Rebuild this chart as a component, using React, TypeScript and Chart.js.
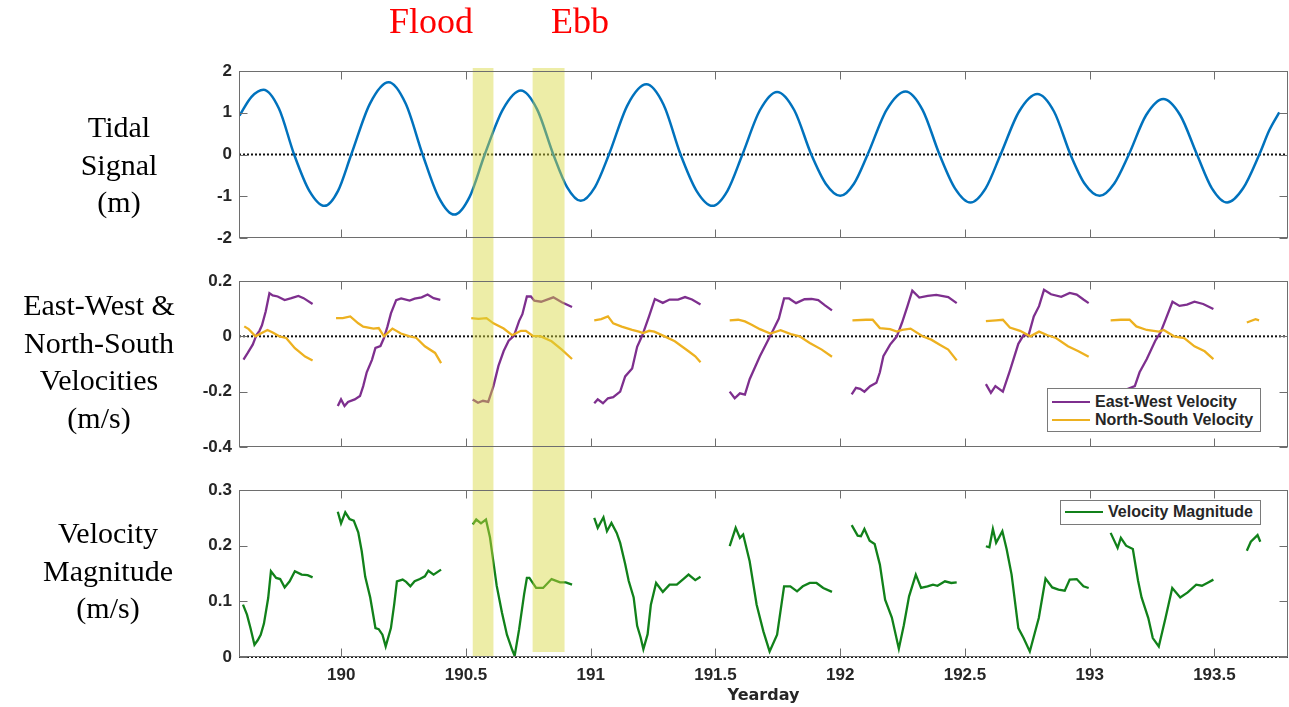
import React, { useEffect, useRef } from 'react';
import { Chart, registerables } from 'chart.js';

Chart.register(...registerables);

// ---------- axes / ticks ----------
const X_MIN = 189.59;
const X_MAX = 193.795;
const xTicks = [190, 190.5, 191, 191.5, 192, 192.5, 193, 193.5];
const tideTicks = [-2, -1, 0, 1, 2];
const velTicks = [-0.4, -0.2, 0, 0.2];
const magTicks = [0, 0.1, 0.2, 0.3];
const xTitle = 'Yearday';

// highlighted periods (yearday)
const floodBand = [190.527, 190.61];
const ebbBand = [190.767, 190.895];

// ---------- tidal signal (m) ----------
const tideDays = [
  189.592, 189.64, 189.688, 189.75, 189.811, 189.872, 189.933, 189.987,
  190.04, 190.115, 190.19, 190.258, 190.326, 190.39, 190.453, 190.514,
  190.575, 190.648, 190.72, 190.785, 190.85, 190.905, 190.96, 191.017,
  191.073, 191.148, 191.223, 191.292, 191.36, 191.424, 191.488, 191.548,
  191.608, 191.678, 191.747, 191.816, 191.884, 191.942, 192.0, 192.055,
  192.11, 192.186, 192.262, 192.33, 192.398, 192.46, 192.522, 192.583,
  192.643, 192.717, 192.79, 192.857, 192.923, 192.98, 193.04, 193.098,
  193.157, 193.226, 193.295, 193.363, 193.43, 193.49, 193.551, 193.615,
  193.68, 193.72, 193.76,
];
const tideLevels = [
  0.93, 1.38, 1.55, 1.1, 0, -0.87, -1.23, -0.87,
  0, 1.22, 1.73, 1.22, 0, -1.02, -1.44, -1.02,
  0, 1.08, 1.53, 1.08, 0, -0.78, -1.11, -0.78,
  0, 1.19, 1.68, 1.19, 0, -0.87, -1.23, -0.87,
  0, 1.06, 1.5, 1.06, 0, -0.7, -0.99, -0.7,
  0, 1.07, 1.51, 1.07, 0, -0.81, -1.15, -0.81,
  0, 1.03, 1.45, 1.03, 0, -0.7, -0.99, -0.7,
  0, 0.94, 1.33, 0.94, 0, -0.81, -1.15, -0.81,
  0, 0.58, 1.01,
];

// ---------- East-West velocity (m/s), segments [yearday, value] ----------
const eastWest: number[][][] = [
  [[189.608, -0.084], [189.625, -0.06], [189.645, -0.03], [189.66, 0.005], [189.672, 0.02], [189.682, 0.04], [189.697, 0.09], [189.712, 0.156], [189.725, 0.148], [189.745, 0.144], [189.773, 0.131], [189.8, 0.138], [189.828, 0.146], [189.849, 0.138], [189.885, 0.117]],
  [[189.986, -0.252], [189.999, -0.228], [190.013, -0.252], [190.027, -0.237], [190.054, -0.228], [190.075, -0.216], [190.088, -0.18], [190.102, -0.13], [190.123, -0.085], [190.137, -0.042], [190.157, -0.035], [190.171, -0.006], [190.185, 0.035], [190.199, 0.083], [190.22, 0.131], [190.24, 0.137], [190.274, 0.129], [190.294, 0.136], [190.322, 0.141], [190.346, 0.151], [190.37, 0.138], [190.397, 0.132]],
  [[190.527, -0.228], [190.548, -0.24], [190.568, -0.233], [190.589, -0.237], [190.61, -0.18], [190.63, -0.107], [190.651, -0.053], [190.671, -0.016], [190.692, 0.002], [190.713, 0.056], [190.726, 0.08], [190.744, 0.144], [190.76, 0.144], [190.774, 0.129], [190.801, 0.125], [190.85, 0.141], [190.884, 0.123], [190.925, 0.106]],
  [[191.014, -0.242], [191.028, -0.228], [191.049, -0.242], [191.069, -0.224], [191.09, -0.22], [191.118, -0.2], [191.138, -0.145], [191.166, -0.116], [191.186, -0.038], [191.206, 0.002], [191.234, 0.073], [191.257, 0.135], [191.289, 0.121], [191.316, 0.133], [191.35, 0.133], [191.378, 0.142], [191.406, 0.133], [191.44, 0.115]],
  [[191.557, -0.2], [191.577, -0.224], [191.598, -0.206], [191.618, -0.211], [191.637, -0.155], [191.678, -0.072], [191.727, 0.015], [191.754, 0.064], [191.775, 0.137], [191.795, 0.137], [191.823, 0.12], [191.857, 0.134], [191.885, 0.135], [191.912, 0.131], [191.939, 0.112], [191.967, 0.094]],
  [[192.046, -0.21], [192.063, -0.186], [192.08, -0.19], [192.097, -0.2], [192.12, -0.18], [192.145, -0.168], [192.159, -0.13], [192.173, -0.072], [192.2, -0.03], [192.227, 0.0], [192.248, 0.05], [192.269, 0.107], [192.289, 0.165], [192.317, 0.14], [192.351, 0.146], [192.385, 0.15], [192.433, 0.142], [192.467, 0.12]],
  [[192.584, -0.173], [192.604, -0.204], [192.622, -0.18], [192.652, -0.2], [192.68, -0.125], [192.714, -0.027], [192.735, 0.004], [192.755, 0.004], [192.776, 0.072], [192.797, 0.109], [192.817, 0.168], [192.845, 0.152], [192.886, 0.143], [192.92, 0.157], [192.948, 0.151], [192.975, 0.133], [192.996, 0.12]],
  [[193.09, -0.215], [193.12, -0.2], [193.146, -0.192], [193.181, -0.18], [193.2, -0.13], [193.229, -0.082], [193.263, -0.016], [193.284, 0.014], [193.305, 0.062], [193.332, 0.125], [193.36, 0.11], [193.39, 0.115], [193.42, 0.125], [193.455, 0.117], [193.496, 0.099]],
];

// ---------- North-South velocity (m/s) ----------
const northSouth: number[][][] = [
  [[189.611, 0.036], [189.629, 0.026], [189.656, 0.0], [189.704, 0.023], [189.725, 0.014], [189.752, 0.0], [189.779, -0.006], [189.814, -0.043], [189.855, -0.073], [189.885, -0.087]],
  [[189.979, 0.066], [190.006, 0.066], [190.036, 0.072], [190.068, 0.047], [190.088, 0.035], [190.129, 0.028], [190.15, 0.03], [190.171, 0.0], [190.205, 0.028], [190.239, 0.01], [190.274, 0.0], [190.3, -0.005], [190.335, -0.036], [190.376, -0.06], [190.4, -0.097]],
  [[190.521, 0.066], [190.55, 0.063], [190.582, 0.066], [190.61, 0.047], [190.651, 0.028], [190.685, 0.004], [190.72, 0.02], [190.74, 0.02], [190.767, 0.002], [190.8, 0.0], [190.843, -0.018], [190.884, -0.048], [190.925, -0.082]],
  [[191.014, 0.058], [191.042, 0.062], [191.069, 0.072], [191.09, 0.047], [191.124, 0.035], [191.166, 0.023], [191.193, 0.017], [191.21, 0.012], [191.234, 0.02], [191.255, 0.017], [191.296, 0.0], [191.337, -0.018], [191.392, -0.054], [191.419, -0.072], [191.44, -0.094]],
  [[191.557, 0.058], [191.591, 0.06], [191.618, 0.054], [191.645, 0.042], [191.678, 0.026], [191.72, 0.01], [191.761, 0.022], [191.802, 0.008], [191.837, 0.0], [191.878, -0.024], [191.926, -0.048], [191.967, -0.074]],
  [[192.049, 0.058], [192.104, 0.06], [192.13, 0.06], [192.159, 0.03], [192.2, 0.026], [192.227, 0.017], [192.248, 0.023], [192.282, 0.028], [192.33, 0.0], [192.365, -0.012], [192.399, -0.03], [192.433, -0.048], [192.467, -0.087]],
  [[192.584, 0.055], [192.625, 0.058], [192.652, 0.06], [192.68, 0.032], [192.721, 0.02], [192.762, 0.0], [192.797, 0.017], [192.831, 0.004], [192.865, -0.006], [192.913, -0.036], [192.955, -0.054], [192.996, -0.074]],
  [[193.084, 0.058], [193.125, 0.06], [193.16, 0.06], [193.187, 0.036], [193.229, 0.023], [193.277, 0.017], [193.297, 0.023], [193.338, 0.0], [193.379, -0.006], [193.42, -0.036], [193.461, -0.054], [193.496, -0.082]],
  [[193.63, 0.05], [193.665, 0.062], [193.679, 0.058]],
];

// ---------- velocity magnitude (m/s) ----------
const magnitude: number[][][] = [
  [[189.606, 0.094], [189.622, 0.076], [189.636, 0.052], [189.652, 0.022], [189.665, 0.03], [189.677, 0.04], [189.69, 0.06], [189.707, 0.106], [189.718, 0.154], [189.739, 0.142], [189.755, 0.14], [189.773, 0.125], [189.793, 0.136], [189.814, 0.154], [189.841, 0.148], [189.865, 0.147], [189.885, 0.143]],
  [[189.986, 0.261], [189.999, 0.24], [190.016, 0.26], [190.033, 0.248], [190.05, 0.245], [190.068, 0.224], [190.082, 0.19], [190.096, 0.144], [190.116, 0.107], [190.137, 0.052], [190.15, 0.05], [190.165, 0.04], [190.178, 0.019], [190.199, 0.052], [190.212, 0.094], [190.223, 0.136], [190.246, 0.139], [190.26, 0.135], [190.277, 0.127], [190.294, 0.136], [190.315, 0.14], [190.335, 0.145], [190.349, 0.155], [190.37, 0.148], [190.4, 0.157]],
  [[190.527, 0.238], [190.541, 0.247], [190.56, 0.24], [190.58, 0.247], [190.596, 0.215], [190.61, 0.17], [190.623, 0.128], [190.644, 0.08], [190.664, 0.04], [190.685, 0.013], [190.695, 0.002], [190.713, 0.05], [190.733, 0.113], [190.744, 0.142], [190.754, 0.142], [190.781, 0.124], [190.809, 0.124], [190.843, 0.14], [190.877, 0.134], [190.9, 0.134], [190.925, 0.13]],
  [[191.014, 0.25], [191.028, 0.232], [191.051, 0.251], [191.065, 0.226], [191.083, 0.241], [191.104, 0.223], [191.118, 0.205], [191.138, 0.167], [191.152, 0.137], [191.172, 0.107], [191.186, 0.056], [191.2, 0.035], [191.211, 0.014], [191.228, 0.041], [191.241, 0.094], [191.262, 0.133], [191.289, 0.117], [191.316, 0.13], [191.345, 0.13], [191.371, 0.14], [191.392, 0.148], [191.419, 0.138], [191.44, 0.144]],
  [[191.557, 0.199], [191.581, 0.232], [191.598, 0.214], [191.611, 0.22], [191.637, 0.172], [191.665, 0.094], [191.692, 0.046], [191.717, 0.01], [191.747, 0.04], [191.775, 0.127], [191.8, 0.127], [191.827, 0.118], [191.85, 0.127], [191.878, 0.133], [191.905, 0.133], [191.932, 0.124], [191.967, 0.117]],
  [[192.046, 0.237], [192.07, 0.218], [192.083, 0.217], [192.097, 0.23], [192.118, 0.209], [192.138, 0.203], [192.159, 0.166], [192.18, 0.103], [192.207, 0.071], [192.235, 0.015], [192.255, 0.057], [192.276, 0.109], [192.303, 0.148], [192.324, 0.124], [192.35, 0.127], [192.372, 0.13], [192.39, 0.128], [192.42, 0.136], [192.445, 0.133], [192.467, 0.134]],
  [[192.584, 0.199], [192.598, 0.197], [192.612, 0.23], [192.625, 0.205], [192.65, 0.226], [192.667, 0.194], [192.687, 0.148], [192.714, 0.052], [192.735, 0.034], [192.76, 0.01], [192.796, 0.07], [192.823, 0.141], [192.85, 0.125], [192.875, 0.121], [192.9, 0.119], [192.92, 0.139], [192.948, 0.14], [192.975, 0.127], [192.996, 0.124]],
  [[193.084, 0.223], [193.112, 0.196], [193.125, 0.214], [193.146, 0.2], [193.173, 0.194], [193.194, 0.137], [193.208, 0.107], [193.235, 0.07], [193.253, 0.034], [193.277, 0.019], [193.304, 0.07], [193.331, 0.124], [193.363, 0.107], [193.393, 0.116], [193.427, 0.13], [193.45, 0.128], [193.475, 0.134], [193.496, 0.139]],
  [[193.63, 0.191], [193.646, 0.207], [193.673, 0.219], [193.684, 0.207]],
];

// ---------- labels ----------
const panelTitles = [
  ['Tidal', 'Signal', '(m)'],
  ['East-West &', 'North-South', 'Velocities', '(m/s)'],
  ['Velocity', 'Magnitude', '(m/s)'],
];
const seriesNames = ['East-West Velocity', 'North-South Velocity', 'Velocity Magnitude'];
const bandNames = ['Flood', 'Ebb'];

// ---------- styling ----------
const W = 1289;
const PLOT_LEFT = 239;
const PLOT_RIGHT = 1288;
const AXIS_COLOR = '#6e6e6e';
const TEXT_COLOR = '#262626';
const TICK_FONT = { family: '"Liberation Sans", Arial, sans-serif', size: 17, weight: 'bold' as const };
const BAND_COLOR = 'rgba(214, 214, 60, 0.45)';
const COLORS = { tide: '#0072BD', ew: '#7E2F8E', ns: '#EDB120', mag: '#11811a' };

function toPoints(segments: number[][][]) {
  const pts: { x: number; y: number | null }[] = [];
  segments.forEach((seg, i) => {
    if (i > 0) {
      const prev = segments[i - 1];
      pts.push({ x: (prev[prev.length - 1][0] + seg[0][0]) / 2, y: null });
    }
    seg.forEach(([x, y]) => pts.push({ x, y }));
  });
  return pts;
}

type PanelCfg = {
  top: number; // canvas top on page
  height: number;
  plotTop: number;
  plotBottom: number;
  yMin: number;
  yMax: number;
  yTicks: number[];
  showX: boolean;
  datasets: any[];
  bandBottoms: number[];
};

function decorPlugin(cfg: PanelCfg) {
  return {
    id: 'panelDecor',
    beforeDatasetsDraw(chart: any) {
      const { ctx, chartArea } = chart;
      const y0 = chart.scales.y.getPixelForValue(0);
      ctx.save();
      ctx.strokeStyle = '#111';
      ctx.lineWidth = 2;
      ctx.setLineDash([2, 2]);
      ctx.beginPath();
      ctx.moveTo(chartArea.left, y0);
      ctx.lineTo(chartArea.right, y0);
      ctx.stroke();
      ctx.restore();
    },
    afterDatasetsDraw(chart: any) {
      const { ctx, chartArea } = chart;
      const xs = chart.scales.x;
      const ys = chart.scales.y;
      ctx.save();
      // highlighted flood / ebb bands (span all panels)
      ctx.fillStyle = BAND_COLOR;
      [floodBand, ebbBand].forEach((b, i) => {
        const x0 = xs.getPixelForValue(b[0]);
        const x1 = xs.getPixelForValue(b[1]);
        const yTop = 68 - cfg.top;
        const yBot = cfg.bandBottoms[i] - cfg.top;
        ctx.fillRect(x0, yTop, x1 - x0, yBot - yTop);
      });
      // box + inward ticks
      ctx.strokeStyle = AXIS_COLOR;
      ctx.lineWidth = 1;
      const L = Math.round(chartArea.left) + 0.5;
      const R = Math.round(chartArea.right) - 0.5;
      const T = Math.round(chartArea.top) + 0.5;
      const B = Math.round(chartArea.bottom) - 0.5;
      ctx.strokeRect(L, T, R - L, B - T);
      ctx.beginPath();
      xTicks.forEach((v) => {
        const x = Math.round(xs.getPixelForValue(v)) + 0.5;
        ctx.moveTo(x, T);
        ctx.lineTo(x, T + 8);
        ctx.moveTo(x, B);
        ctx.lineTo(x, B - 8);
      });
      cfg.yTicks.forEach((v) => {
        const y = Math.round(ys.getPixelForValue(v)) + 0.5;
        ctx.moveTo(L, y);
        ctx.lineTo(L + 8, y);
        ctx.moveTo(R, y);
        ctx.lineTo(R - 8, y);
      });
      ctx.stroke();
      ctx.restore();
    },
  };
}

function Panel({ cfg }: { cfg: PanelCfg }) {
  const ref = useRef<HTMLCanvasElement | null>(null);
  useEffect(() => {
    if (!ref.current) return;
    const chart = new Chart(ref.current, {
      type: 'line',
      data: { datasets: cfg.datasets },
      options: {
        animation: false,
        responsive: false,
        maintainAspectRatio: false,
        devicePixelRatio: 1,
        layout: {
          padding: {
            left: 0,
            right: W - PLOT_RIGHT,
            top: cfg.plotTop - cfg.top,
            bottom: cfg.showX ? 0 : cfg.top + cfg.height - cfg.plotBottom,
          },
        },
        plugins: { legend: { display: false }, tooltip: { enabled: false } },
        elements: { point: { radius: 0 } },
        scales: {
          x: {
            type: 'linear',
            min: X_MIN,
            max: X_MAX,
            display: cfg.showX,
            afterBuildTicks: (s: any) => {
              s.ticks = xTicks.map((v) => ({ value: v }));
            },
            afterFit: (s: any) => {
              if (cfg.showX) s.height = cfg.top + cfg.height - cfg.plotBottom;
            },
            grid: { display: false, drawTicks: false },
            border: { display: false },
            ticks: {
              font: TICK_FONT,
              color: TEXT_COLOR,
              padding: 8,
              maxRotation: 0,
              autoSkip: false,
              callback: (v: any) => String(v),
            },
            title: {
              display: true,
              text: xTitle,
              color: TEXT_COLOR,
              font: { family: '"DejaVu Sans", sans-serif', size: 16, weight: 'bold' },
              padding: { top: 0, bottom: 2 },
            },
          },
          y: {
            type: 'linear',
            min: cfg.yMin,
            max: cfg.yMax,
            afterBuildTicks: (s: any) => {
              s.ticks = cfg.yTicks.map((v) => ({ value: v }));
            },
            afterFit: (s: any) => {
              s.width = PLOT_LEFT;
            },
            grid: { display: false, drawTicks: false },
            border: { display: false },
            ticks: {
              font: TICK_FONT,
              color: TEXT_COLOR,
              padding: 7,
              callback: (v: any) => String(v),
            },
          },
        },
      },
      plugins: [decorPlugin(cfg)],
    } as any);
    return () => chart.destroy();
  }, []);
  return (
    <canvas
      ref={ref}
      width={W}
      height={cfg.height}
      style={{ position: 'absolute', left: 0, top: cfg.top, width: W, height: cfg.height }}
    />
  );
}

const lineDs = (data: any[], color: string, extra: any = {}) => ({
  data,
  borderColor: color,
  backgroundColor: color,
  borderWidth: 2.3,
  pointRadius: 0,
  spanGaps: false,
  fill: false,
  tension: 0,
  ...extra,
});

const panels: PanelCfg[] = [
  {
    top: 0,
    height: 262,
    plotTop: 71,
    plotBottom: 238,
    yMin: -2,
    yMax: 2,
    yTicks: tideTicks,
    showX: false,
    datasets: [
      lineDs(
        tideDays.map((d, i) => ({ x: d, y: tideLevels[i] })),
        COLORS.tide,
        { cubicInterpolationMode: 'monotone', borderWidth: 2.5 }
      ),
    ],
    bandBottoms: [657, 652],
  },
  {
    top: 262,
    height: 206,
    plotTop: 281,
    plotBottom: 447,
    yMin: -0.4,
    yMax: 0.2,
    yTicks: velTicks,
    showX: false,
    datasets: [
      lineDs(toPoints(northSouth), COLORS.ns, { order: 0 }),
      lineDs(toPoints(eastWest), COLORS.ew, { order: 1 }),
    ],
    bandBottoms: [657, 652],
  },
  {
    top: 468,
    height: 239,
    plotTop: 490,
    plotBottom: 657,
    yMin: 0,
    yMax: 0.3,
    yTicks: magTicks,
    showX: true,
    datasets: [lineDs(toPoints(magnitude), COLORS.mag)],
    bandBottoms: [657, 652],
  },
];

const serif = '"Liberation Serif", "Times New Roman", serif';
const sans = '"Liberation Sans", Arial, sans-serif';

function LegendRow({ color, text }: { color: string; text: string }) {
  return (
    <div style={{ display: 'flex', alignItems: 'center', height: 18 }}>
      <div style={{ width: 38, height: 2, background: color, marginLeft: 4, marginRight: 5 }} />
      <span style={{ fontFamily: sans, fontWeight: 'bold', fontSize: 16, color: TEXT_COLOR, whiteSpace: 'nowrap' }}>{text}</span>
    </div>
  );
}

export default function App() {
  const titleCenters = [
    { cx: 119, top: 108 },
    { cx: 99, top: 286 },
    { cx: 108, top: 514 },
  ];
  const bandLabelCenters = [431, 580];
  return (
    <div style={{ position: 'absolute', left: 0, top: 0, width: W, height: 707, background: '#fff', overflow: 'hidden' }}>
      {panels.map((p, i) => (
        <Panel key={i} cfg={p} />
      ))}
      {panelTitles.map((lines, i) => (
        <div
          key={i}
          style={{
            position: 'absolute',
            left: titleCenters[i].cx - 110,
            top: titleCenters[i].top,
            width: 220,
            textAlign: 'center',
            fontFamily: serif,
            fontSize: 30,
            lineHeight: '37.5px',
            color: '#000',
          }}
        >
          {lines.map((l, j) => (
            <div key={j}>{l}</div>
          ))}
        </div>
      ))}
      {bandNames.map((n, i) => (
        <div
          key={n}
          style={{
            position: 'absolute',
            left: bandLabelCenters[i] - 70,
            top: 3,
            width: 140,
            textAlign: 'center',
            fontFamily: serif,
            fontSize: 36,
            lineHeight: '36px',
            color: '#ff0000',
          }}
        >
          {n}
        </div>
      ))}
      <div
        style={{
          position: 'absolute',
          left: 1047,
          top: 388,
          width: 214,
          height: 44,
          border: '1px solid #7a7a7a',
          background: '#fff',
          paddingTop: 4,
          boxSizing: 'border-box',
        }}
      >
        <LegendRow color={COLORS.ew} text={seriesNames[0]} />
        <LegendRow color={COLORS.ns} text={seriesNames[1]} />
      </div>
      <div
        style={{
          position: 'absolute',
          left: 1060,
          top: 500,
          width: 201,
          height: 25,
          border: '1px solid #7a7a7a',
          background: '#fff',
          paddingTop: 2,
          boxSizing: 'border-box',
        }}
      >
        <LegendRow color={COLORS.mag} text={seriesNames[2]} />
      </div>
    </div>
  );
}
